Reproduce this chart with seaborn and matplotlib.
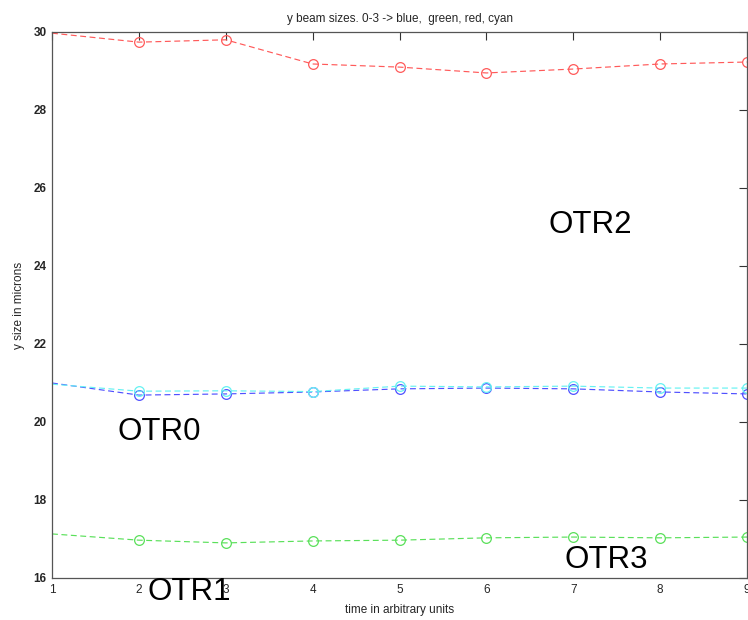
import matplotlib
matplotlib.use("Agg")
import matplotlib.pyplot as plt
import seaborn as sns
import pandas as pd

time = [1, 2, 3, 4, 5, 6, 7, 8, 9]
otr0_blue = [21.00, 20.69, 20.72, 20.77, 20.85, 20.87, 20.85, 20.77, 20.72]
otr1_green = [17.13, 16.97, 16.90, 16.95, 16.97, 17.03, 17.05, 17.03, 17.05]
otr2_red = [29.97, 29.74, 29.80, 29.18, 29.10, 28.95, 29.05, 29.18, 29.23]
otr3_cyan = [20.97, 20.79, 20.80, 20.78, 20.92, 20.90, 20.92, 20.87, 20.87]

series = [
    ("OTR0", otr0_blue, "#5050ff"),
    ("OTR1", otr1_green, "#5ae05a"),
    ("OTR2", otr2_red, "#ff5a5a"),
    ("OTR3", otr3_cyan, "#66f2f2"),
]

sns.set_style("white")
plt.rcParams["font.family"] = ["Liberation Sans", "DejaVu Sans"]

fig = plt.figure(figsize=(7.48, 6.2), dpi=100)
ax = fig.add_axes([52 / 748, 1 - 578 / 620, (747 - 52) / 748, 546 / 620])

for name, vals, col in series:
    df = pd.DataFrame({"t": time, "v": vals})
    sns.lineplot(data=df, x="t", y="v", ax=ax, color=col,
                 linewidth=0.85, marker="o", markersize=7, markerfacecolor="none",
                 markeredgecolor=col, markeredgewidth=0.9,
                 markevery=slice(1, None), clip_on=False)
    ax.lines[-1].set_linestyle((0, (5, 3)))

ax.set_xlim(1, 9)
ax.set_ylim(16, 30)
ax.set_xticks(range(1, 10))
ax.set_yticks(range(16, 31, 2))
ax.tick_params(direction="in", top=True, right=True, length=6, width=0.8,
               labelsize=8.5, color="#333333", pad=4)
for lab in ax.get_yticklabels():
    lab.set_fontweight("bold")
for sp in ax.spines.values():
    sp.set_color("#555555")
    sp.set_linewidth(0.9)

ax.set_xlabel("time in arbitrary units", fontsize=8.5, labelpad=6)
ax.set_ylabel("y size in microns", fontsize=8.5, labelpad=6)
ax.set_title("y beam sizes. 0-3 -> blue,  green, red, cyan", fontsize=8.5, pad=7)

labels = [("OTR2", 6.71, 24.85), ("OTR0", 1.75, 19.54),
          ("OTR3", 6.90, 16.26), ("OTR1", 2.10, 15.44)]
for txt, x, y in labels:
    ax.text(x, y, txt, fontsize=22.5, va="baseline", ha="left",
            color="black", clip_on=False, zorder=5)

fig.savefig("out.png", dpi=100)
